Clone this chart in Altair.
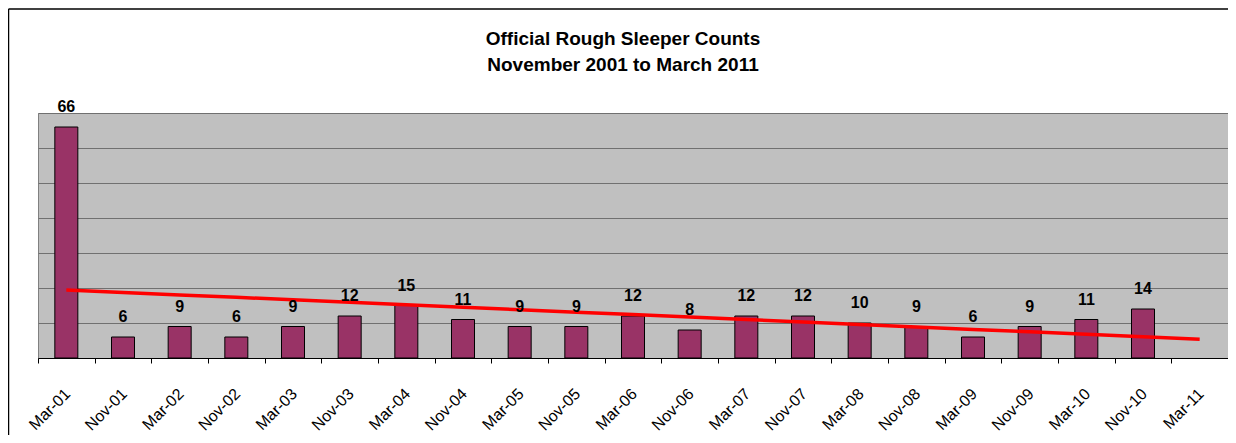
import altair as alt
import numpy as np
import pandas as pd

categories = ["Mar-01", "Nov-01", "Mar-02", "Nov-02", "Mar-03", "Nov-03", "Mar-04",
              "Nov-04", "Mar-05", "Nov-05", "Mar-06", "Nov-06", "Mar-07", "Nov-07",
              "Mar-08", "Nov-08", "Mar-09", "Nov-09", "Mar-10", "Nov-10", "Mar-11"]
counts = [66, 6, 9, 6, 9, 12, 15, 11, 9, 9, 12, 8, 12, 12, 10, 9, 6, 9, 11, 14]

# linear trend fitted to the counts, drawn across all categories
idx = np.arange(len(counts))
slope, intercept = np.polyfit(idx, counts, 1)
trend = intercept + slope * np.arange(len(categories))

bars_df = pd.DataFrame({"period": categories[:len(counts)], "count": counts})
trend_df = pd.DataFrame({"period": categories, "count": trend})
dummy = pd.DataFrame({"a": [0]})

FONT = "Liberation Sans, Arial, sans-serif"

x = alt.X("period:N", sort=categories,
          scale=alt.Scale(domain=categories, paddingInner=0, paddingOuter=0),
          axis=alt.Axis(title=None, labelAngle=-45, labelAlign="right",
                        labelBaseline="middle", labelPadding=28, labelOffset=1,
                        tickSize=5, tickBand="extent", domainColor="black",
                        tickColor="black", labelFont=FONT, labelFontSize=16,
                        labelColor="black", grid=False))
y = alt.Y("count:Q", scale=alt.Scale(domain=[0, 70], nice=False),
          axis=alt.Axis(title=None, labels=False, ticks=False, domain=False,
                        values=list(range(0, 71, 10)), gridColor="#707070",
                        gridWidth=1))

bars = alt.Chart(bars_df).mark_bar(size=23, color="#993366", stroke="black",
                                   strokeWidth=1).encode(x=x, y=y)
labels = alt.Chart(bars_df).mark_text(dy=-15, baseline="alphabetic",
                                      fontWeight="bold", fontSize=16,
                                      font=FONT, color="black").encode(
    x=x, y=y, text="count:Q")
line = alt.Chart(trend_df).mark_line(color="#FF0000", strokeWidth=3.5).encode(x=x, y=y)

frame_top = alt.Chart(dummy).mark_rule(color="black", strokeWidth=1.5).encode(
    x=alt.value(-29.5), x2=alt.value(1190), y=alt.value(-104))
frame_left = alt.Chart(dummy).mark_rule(color="black", strokeWidth=1.5).encode(
    x=alt.value(-29.5), y=alt.value(-104), y2=alt.value(330))

chart = alt.layer(bars, line, labels, frame_top, frame_left).properties(
    width=1190, height=245,
    autosize=alt.AutoSizeParams(type="none"),
    padding={"left": 30, "top": 105, "right": 0, "bottom": 77},
    background="white",
    title=alt.TitleParams(["Official Rough Sleeper Counts", "November 2001 to March 2011"],
                          font=FONT, fontSize=19, fontWeight="bold",
                          anchor="middle", dx=-10, offset=-67, lineHeight=26,
                          color="black"),
).configure_view(fill="#C0C0C0", stroke="#808080")

chart.save("out.html", embed_options={"renderer": "svg", "actions": False})
